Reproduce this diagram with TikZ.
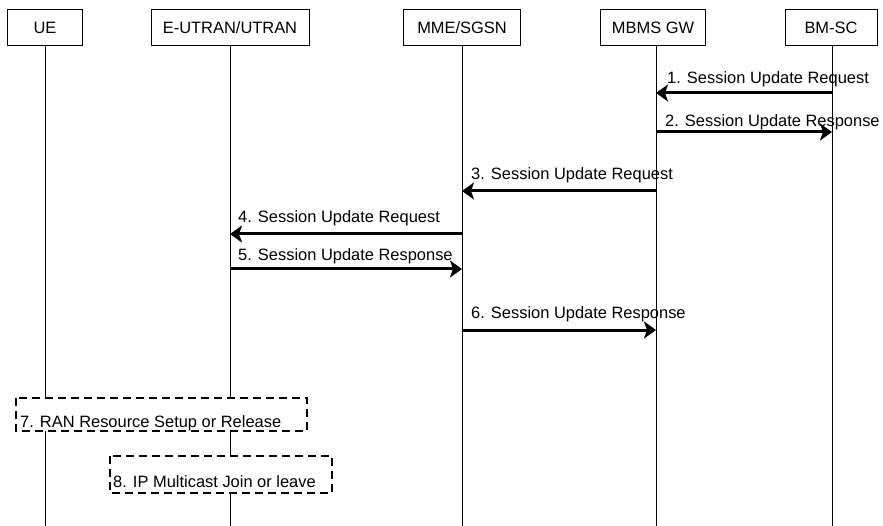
\documentclass[tikz,border=0pt]{standalone}
\usepackage{fontspec}
\setmainfont{Liberation Sans}
\usetikzlibrary{positioning, arrows.meta, calc}
\tikzset{
	>={Stealth[length=12bp, width=17bp, inset=3bp]},
	every node/.style={font=\fontsize{16.5}{20}\selectfont},
	entity/.style={draw, line width=1bp, minimum height=36bp, inner sep=0pt},
	lifeline/.style={line width=1bp},
	msg/.style={->, line width=3bp},
	msglabel/.style={anchor=base west, inner sep=0pt},
	action/.style={draw, dash pattern=on 8bp off 5bp, line width=2bp, fill=white},
	actlabel/.style={anchor=base west, inner sep=0pt},
}

\begin{document}
\begin{tikzpicture}[x=1bp, y=-1bp]
			\useasboundingbox (0,0) rectangle (883,526);
			
			% participants
			\node[entity, minimum width=75bp] (UE) at (45,28) {UE};
			\node[entity, minimum width=158bp] (RAN) at (230,28) {E-UTRAN/UTRAN};
			\node[entity, minimum width=117bp] (MME) at (462,28) {MME/SGSN};
			\node[entity, minimum width=105bp] (GW) at (653,28) {MBMS GW};
			\node[entity, minimum width=92bp] (BMSC) at (831,28) {BM-SC};
			\coordinate (BOT) at (0,526);
			
			\draw[lifeline] (UE.south) -- (UE |- BOT);
			\draw[lifeline] (RAN.south) -- (RAN |- BOT);
			\draw[lifeline] (MME.south) -- (MME |- BOT);
			\draw[lifeline] ([xshift=3bp]GW.south) -- ([xshift=3bp]GW.south |- BOT);
			\draw[lifeline] ([xshift=1bp]BMSC.south) -- ([xshift=1bp]BMSC.south |- BOT);
			
			% message ends
			\coordinate (GW1) at (656,93);
			\coordinate (BMSC1) at (832,93);
			\coordinate (GW2) at (656,132);
			\coordinate (BMSC2) at (832,132);
			\coordinate (GW3) at (656,191);
			\coordinate (MME3) at (462,191);
			\coordinate (MME4) at (462,234);
			\coordinate (RAN4) at (230,234);
			\coordinate (RAN5) at (230,269);
			\coordinate (MME5) at (462,269);
			\coordinate (MME6) at (462,330);
			\coordinate (GW6) at (656,330);
			
			\draw[msg] (BMSC1) -- (GW1);
			\node[msglabel] (L1) at ($(GW1)+(11,-9)$) {1. Session Update Request};
			\draw[msg] (GW2) -- (BMSC2);
			\node[msglabel] (L2) at ($(GW2)+(9,-5)$) {2. Session Update Response};
			\draw[msg] (GW3) -- (MME3);
			\node[msglabel] (L3) at ($(MME3)+(9,-11)$) {3. Session Update Request};
			\draw[msg] (MME4) -- (RAN4);
			\node[msglabel] (L4) at ($(RAN4)+(8,-11)$) {4. Session Update Request};
			\draw[msg] (RAN5) -- (MME5);
			\node[msglabel] (L5) at ($(RAN5)+(8,-8)$) {5. Session Update Response};
			\draw[msg] (MME6) -- (GW6);
			\node[msglabel] (L6) at ($(MME6)+(9,-11)$) {6. Session Update Response};
			
			% local procedures
			\draw[action] (16,398) rectangle (307,431);
			\node[actlabel] (A7) at (20,427) {7. RAN Resource Setup or Release};
			\draw[action] (110,456) rectangle (332,493);
			\node[actlabel] (A8) at (113,487) {8. IP Multicast Join or leave};
			
		\end{tikzpicture}
\end{document}
